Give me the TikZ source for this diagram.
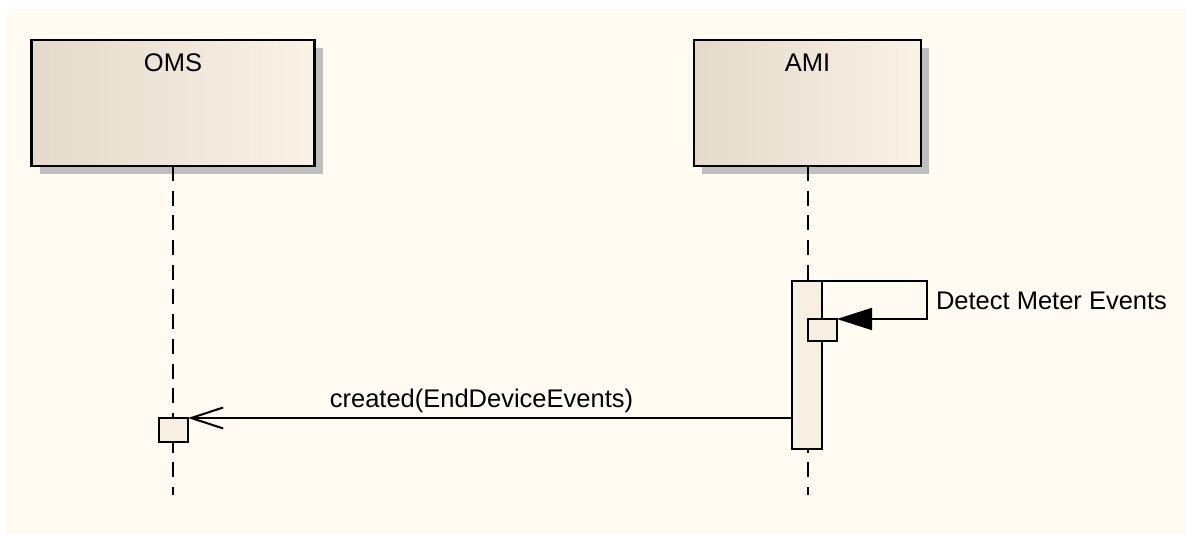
\documentclass[tikz,border=0pt]{standalone}
\usepackage{fontspec}
\setmainfont{Liberation Sans}
\usetikzlibrary{arrows.meta,shadows}
\definecolor{paper}{HTML}{FFFBF3}
\definecolor{headL}{HTML}{E3DACB}
\definecolor{headM}{HTML}{F5ECDF}
\definecolor{headR}{HTML}{FAF2E6}
\definecolor{actfill}{HTML}{F8EFE3}
\definecolor{shade}{HTML}{BEBEBE}
\begin{document}
\begin{tikzpicture}[x=1pt,y=-1pt,
  every node/.style={font=\fontsize{25.5pt}{30pt}\selectfont, inner sep=0pt, outer sep=0pt},
  head/.style={draw=black, line width=2.6pt, minimum width=#1, minimum height=126pt,
    left color=headL, middle color=headM, right color=headR,
    general shadow={fill=shade, shadow xshift=8pt, shadow yshift=-8pt}},
  lifeline/.style={draw=black, line width=2pt, dash pattern=on 15pt off 9.7pt},
  actbox/.style={draw=black, line width=2pt, fill=actfill},
  msg/.style={draw=black, line width=2pt},
  txt/.style={anchor=base, text=black}
]
\useasboundingbox (0,0) rectangle (1186,534);
\fill[paper] (6,9) rectangle (1186,534);

% lifeline heads
\node[head=283pt] (oms) at (173,103) {};
\node[head=227pt] (ami) at (807.5,103) {};
\node[txt] (omsname) at (173,72) {OMS};
\node[txt] (aminame) at (807.5,72) {AMI};

% lifelines
\coordinate (omsend) at (173,495);
\coordinate (amiend) at (807.5,495);
\draw[lifeline] (oms.south) -- (omsend);
\draw[lifeline] (ami.south) -- (amiend);

% activations
\node[actbox, minimum width=30pt, minimum height=168pt] (act) at (807,365) {};
\node[actbox, minimum width=29pt, minimum height=22pt] (selfbox) at (822.5,330) {};
\node[actbox, minimum width=29pt, minimum height=24pt] (omsbox) at (173.5,430) {};

% self message
\draw[msg, -{Triangle[length=35pt,width=22pt]}]
  (act.north east) -- ++(105,0) |- (selfbox.north east);
\node[anchor=base west] (selflabel) at (936,310) {Detect Meter Events};

% message to OMS
\draw[msg, -{Straight Barb[length=32pt,width=21pt,line width=2pt]}]
  (act.west |- omsbox.north east) -- (omsbox.north east);
\node[txt] (msglabel) at (481.5,408) {created(EndDeviceEvents)};
\end{tikzpicture}
\end{document}
